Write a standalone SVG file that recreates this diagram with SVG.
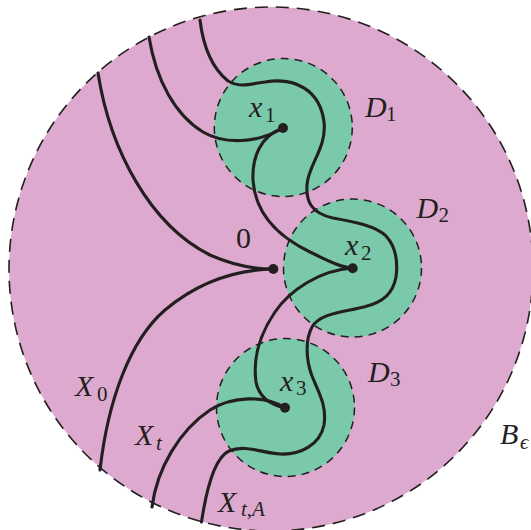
<svg xmlns="http://www.w3.org/2000/svg" width="531" height="530" viewBox="0 0 531 530">
<style>
.big{fill:#dea9ce;stroke:#231f20;stroke-width:1.6;stroke-dasharray:13 8}
.disk{fill:#7bc9ab;stroke:#231f20;stroke-width:1.5;stroke-dasharray:8 6}
.c{fill:none;stroke:#231f20;stroke-width:3.1;stroke-linecap:round}
.dot{fill:#231f20}
.m,.s,.si,.n{font-family:'Liberation Serif',serif;fill:#231f20}
.m{font-size:30px;font-style:italic}
.s{font-size:21px;font-style:normal}
.si{font-size:21px;font-style:italic}
.n{font-size:30px;font-style:normal}
</style>
<rect width="531" height="530" fill="#ffffff"/>
<g id="ball">
<circle class="big" cx="271" cy="269" r="262"/>
<text class="m" x="500" y="444">B<tspan class="si" x="520" y="449">ϵ</tspan></text>
</g>
<g id="D1">
<circle class="disk" cx="283.3" cy="127.5" r="69"/>
<text class="m" x="365" y="117">D<tspan class="s" x="386" y="121">1</tspan></text>
</g>
<g id="D2">
<circle class="disk" cx="352.5" cy="268" r="69"/>
<text class="m" x="416.5" y="218">D<tspan class="s" x="438.5" y="222">2</tspan></text>
</g>
<g id="D3">
<circle class="disk" cx="285.5" cy="407.5" r="69"/>
<text class="m" x="368" y="382">D<tspan class="s" x="390" y="386">3</tspan></text>
</g>
<g id="connectors">
<path class="c" d="M200,20 C203,45 212,68 228,81 C240,88 250,84 265,82 C295,77 320,90 324,122 C327,148 308,165 307,185 C306,200 310,213 333,218 C355,222 376,226 386,236 C396,247 398,262 396,277 C393,293 384,302 364,307 C344,312 320,313 312,327 C305,340 306,360 312,376 C319,393 327,406 324,425 C320,445 300,455 280,454 C262,453 245,444 229,451 C214,458 206,492 201.5,522"/>
<path class="c" d="M149,37 C156,80 175,115 203,132 C225,145 258,143 283,128"/>
<path class="c" d="M283,128 C260,136 252,158 253,180 C255,212 277,236 310,252 C330,262 343,268 353,268"/>
<path class="c" d="M353,268 C320,270 290,290 275,312 C258,337 253,360 256,382 C259,398 272,405 285,408"/>
<path class="c" d="M285,408 C265,395 232,396 210,410 C180,430 157,468 152,507"/>
<path class="c" d="M98,73 C110,150 150,225 210,255 C235,266 255,269 273,269"/>
<path class="c" d="M273,269 C230,270 195,285 165,310 C130,340 108,400 100,470"/>
</g>
<g id="x1">
<circle class="dot" cx="283" cy="128" r="5"/>
<text class="m" x="249" y="117">x<tspan class="s" x="265" y="122">1</tspan></text>
</g>
<g id="x2">
<circle class="dot" cx="352.7" cy="268.3" r="5"/>
<text class="m" x="345" y="255">x<tspan class="s" x="361" y="260">2</tspan></text>
</g>
<g id="x3">
<circle class="dot" cx="285" cy="407.7" r="5"/>
<text class="m" x="280" y="391">x<tspan class="s" x="296" y="395">3</tspan></text>
</g>
<g id="origin">
<circle class="dot" cx="273.3" cy="269" r="5"/>
<text class="n" x="236" y="248">0</text>
</g>
<g id="X0">
<text class="m" x="75" y="396">X<tspan class="s" x="97" y="401">0</tspan></text>
</g>
<g id="Xt">
<text class="m" x="135" y="445">X<tspan class="si" x="156" y="450">t</tspan></text>
</g>
<g id="XtA">
<text class="m" x="218" y="512">X<tspan class="si" x="241" y="516">t</tspan><tspan class="s" y="516">,</tspan><tspan class="si" y="516">A</tspan></text>
</g>
</svg>
